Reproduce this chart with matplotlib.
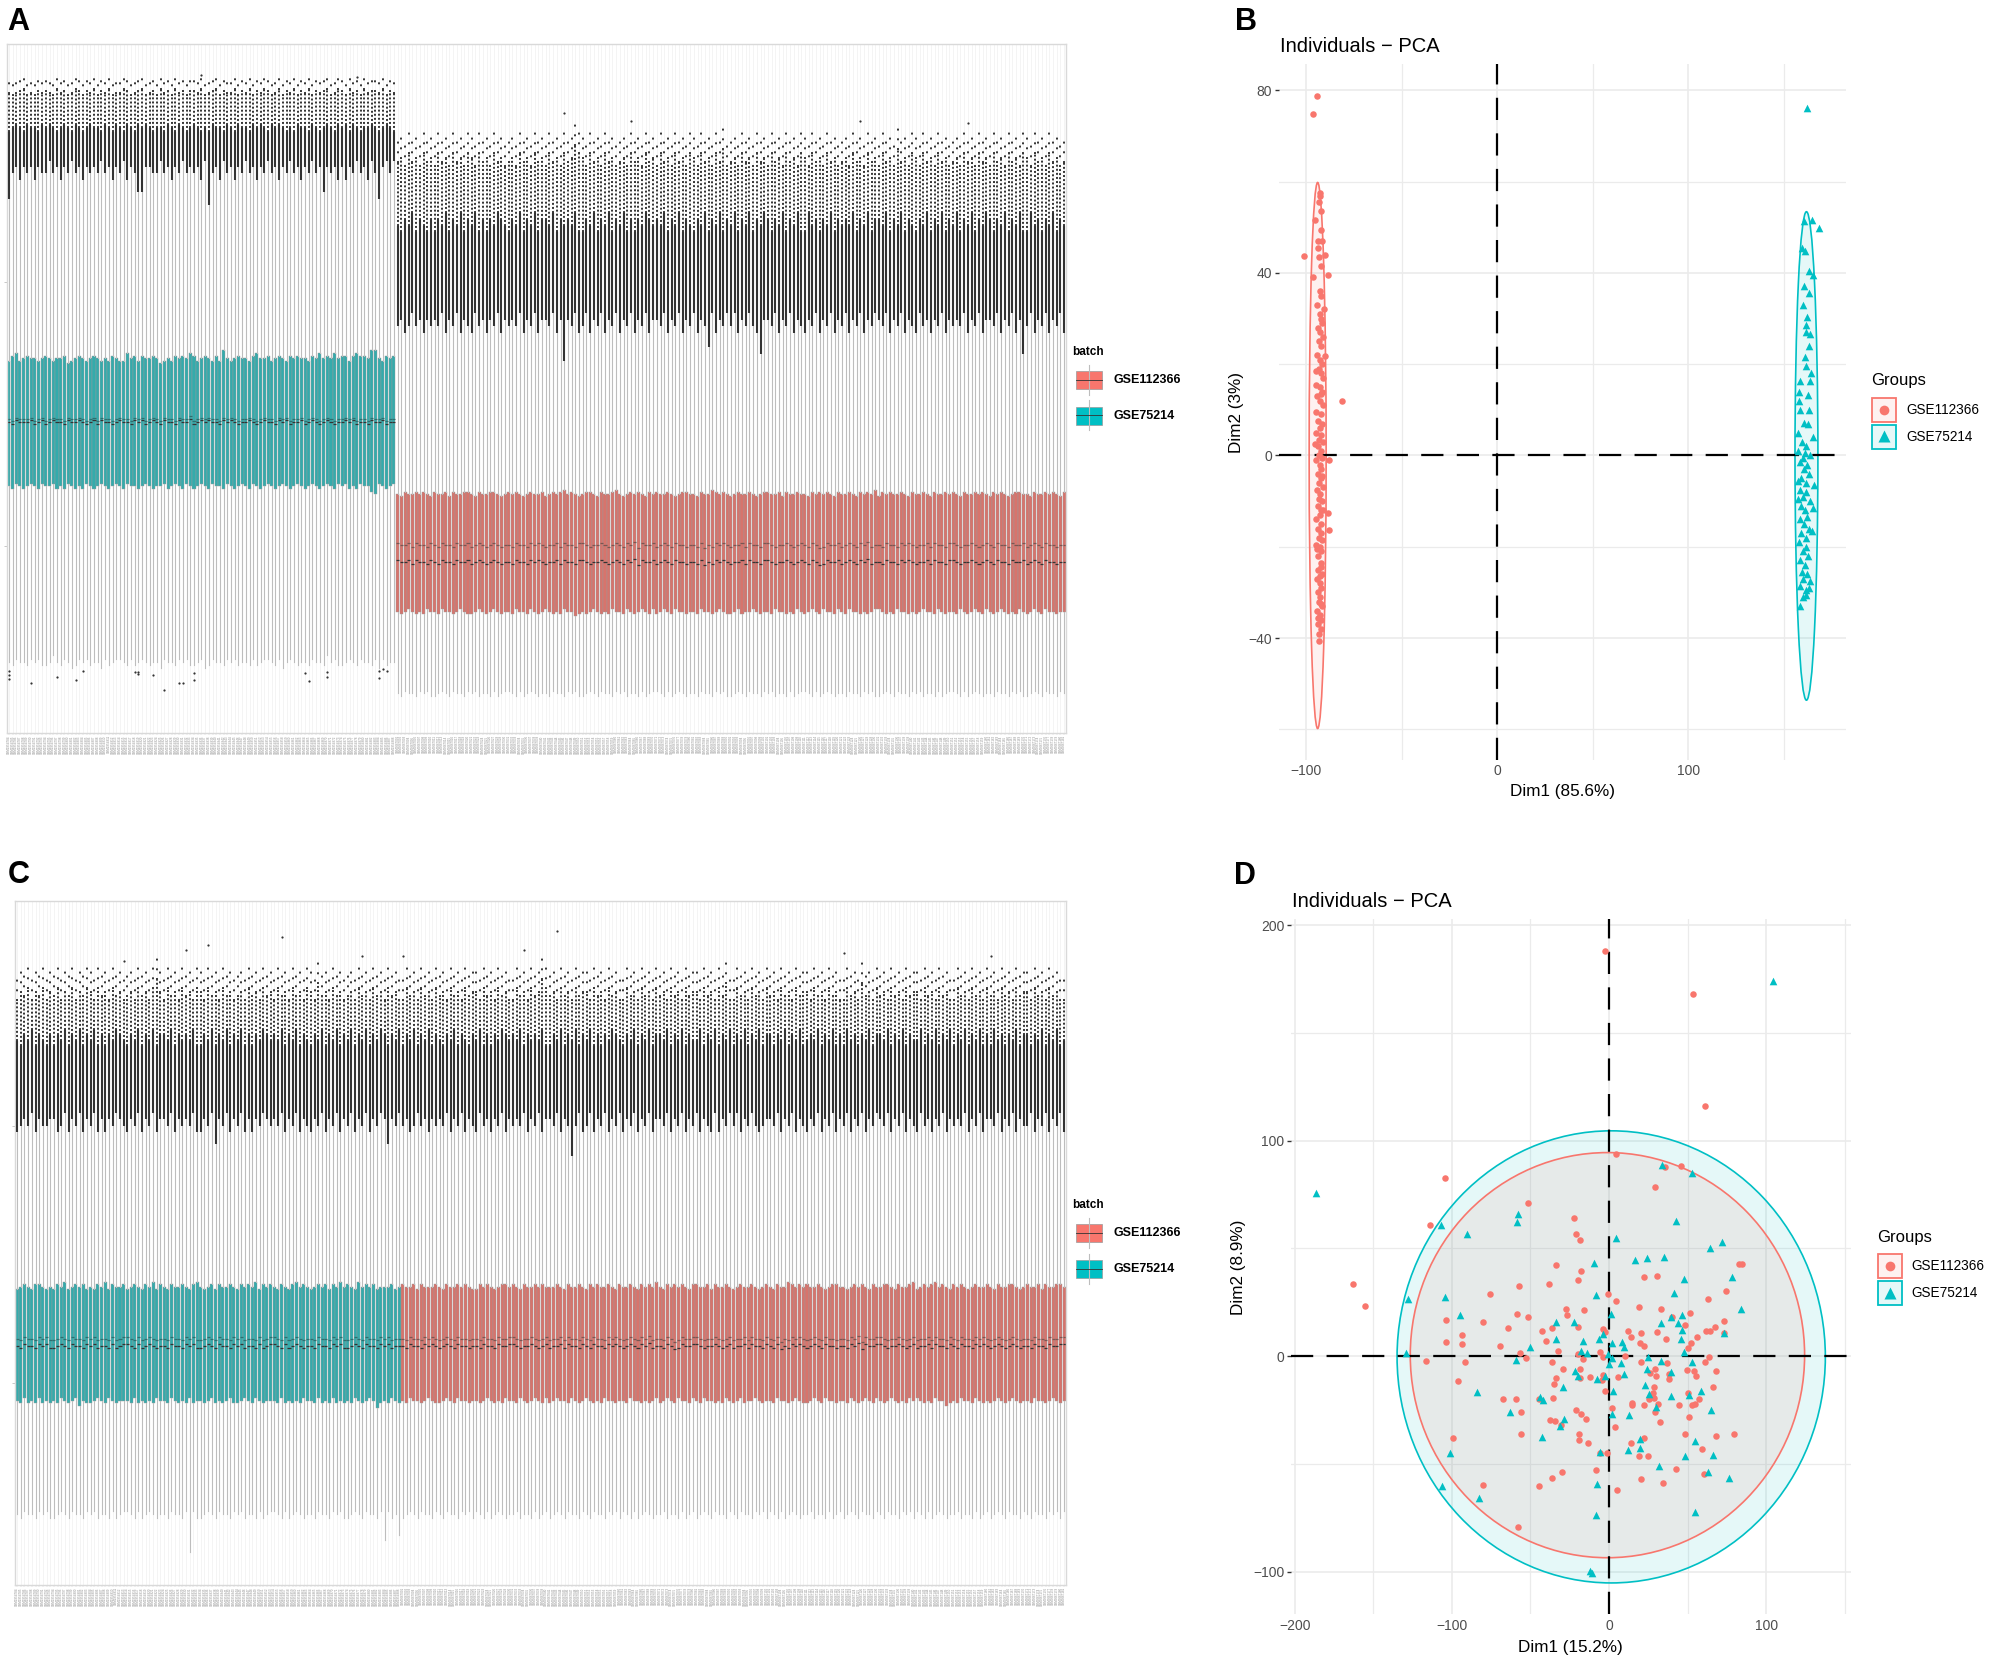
import numpy as np
import matplotlib
matplotlib.use("Agg")
import matplotlib.pyplot as plt
from matplotlib.patches import Ellipse, Rectangle
from matplotlib.colors import to_rgba

plt.rcParams['font.family'] = ['Liberation Sans', 'DejaVu Sans']

W, H = 1990, 1660
RED = '#F8766D'
TEAL = '#00BFC4'

# ------------------------------------------------------------------ data
BATCHES = ["GSE112366", "GSE75214"]
N_TEAL = 105          # GSE75214 samples (left block)
N_RED = 181           # GSE112366 samples (right block)
TEAL_SAMPLES = ["GSM%d" % (1954784 + i) for i in range(N_TEAL)]
RED_SAMPLES = ["GSM%d" % (3067001 + i) for i in range(N_RED)]

# per-sample box statistics, one digit per sample: value = base + (digit-5)*step
# panel A (before batch correction)
A_TEAL_Q3 = "4674565545 6545563456 5456545465 4475646556 5345465657 6456546485 4565546755 6456546565 5465756575 6646766588 5465655545"
A_TEAL_Q1 = "5465456546 5564546545 4654565456 5465545654 5564565465 4565465546 5456546545 6545654565 4565456546 5645465532 6545645565"
A_TEAL_MED = "5465556456 4565546556 5456465545 6554656456 5465546557 4565655465 6545565456 5546564556 4565456545 5656455465 5645546564"
A_TEAL_WH = "1564656465 5756465756 4656575646 5746522665 5756465756 5647056475 6465756465 7564657564 6575626564 6465756475 1675756465"
A_TEAL_DT = "4565465546 5654565465 4565546546 5465465654 5546546545 6545465546 5465546565 4656545465 5465456546 5646545565 4565465546"
A_TEAL_MX = "5456745465 6547564576 4657465745 5764567456 4756475646 6574567465 5746574657 6457465746 5746567457 6475647566 5746574657"
A_TEAL_WL = "5465546564 4575465346 5645536456 6546456545 5365546564 4563465546 5645546456 6546356545 5465547564 4565465546 3645546456"

A_RED_Q3 = "5465565654 6556465566 5465566545 6565456556 4565675654 5665465567 5456565465 6556545665 5465576565 4565565456 6556465565 5465656546 5565465657 4656556546 5565465565 6546556565 4656545665 5465565654 6556465556"
A_RED_Q1 = "5456545465 5465545654 4565456545 5465546545 6545465534 5456545465 5465456546 4565465545 5465545654 4564556545 5465545465 4565465546 5465545456 6545465545 4565546545 5465456546 5456545465 4565465545 5465545654"
A_RED_MED = "6556465546 5465546556 4565456545 5465546565 4556465546 6545565456 5465736556 4565465545 5463546565 4556465546 6545565456 5465346556 4565465745 5465546565 4556465546 6545565456 5465546556 4565465545 5465546565"
A_RED_WH = "5645756465 6574657465 4756465746 5657465746 6574606574 5746574657 4657465746 6574657465 7465274657 5746575416 6574657465 4657465746 5746574657 6574657465 4756465746 5657465746 6574657461 5746574657 4657465746"
A_RED_DT = "5465746546 4657465746 5746465765 4657465746 6574656574 4657465746 5746465765 6574657465 4657465746 5746574657 6465746574 4756465746 5657465746 6574657465 4657465746 5746574657 6465746574 4756465746 5657465746"
A_RED_MX = "5647564756 4756475647 6475647564 5647564756 4756475697 6475647564 5647564756 4756475647 6475647584 5647564756 4756475647 6475647564 5647564756 4756485647 6475647564 5647564756 4756475647 6475647564 5647564756"
A_RED_WL = "5465546564 4565465546 5645546456 6546456545 5465546564 4565465546 5645546456 6546456545 5465546564 4565465546 5645546456 6546456545 5465546564 4565465546 5645546456 6546456545 5465546564 4565465546 5645546456"

# (base, step) for each statistic, panel A
A_TEAL_SCALE = dict(q3=(8.55, 0.05), q1=(6.12, 0.05), med=(7.34, 0.03), wh=(12.05, 0.12),
                    dt=(12.90, 0.07), mx=(13.55, 0.04), wl=(2.80, 0.06))
A_RED_SCALE = dict(q3=(5.97, 0.04), q1=(3.75, 0.04), med=(4.69, 0.03), wh=(9.15, 0.13),
                   dt=(11.05, 0.12), mx=(12.25, 0.08), wl=(2.20, 0.05))
A_TEAL_SECOND = 0.05     # offset of the second line inside the box
A_RED_SECOND = 0.32
A_TEAL_SPARSE = 0.30     # extent of sparse outliers above the dense ones
A_RED_SPARSE = 0.55
A_EXT_IDX = [52, 94, 150, 168, 230, 259]
A_EXT_VAL = [13.92, 13.88, 13.20, 13.05, 13.05, 13.00]
A_LOW_IDX = [0, 0, 0, 6, 13, 18, 20, 34, 35, 35, 39, 42, 46, 47, 50, 50, 80, 81, 86, 86, 100, 100, 101, 102]
A_LOW_VAL = [2.62, 2.55, 2.48, 2.39, 2.52, 2.45, 2.62, 2.60, 2.60, 2.57, 2.55, 2.26, 2.40, 2.40, 2.58, 2.45,
             2.58, 2.44, 2.60, 2.52, 2.62, 2.49, 2.66, 2.62]

# panel C (after batch correction)
C_TEAL_Q3 = "4565466545 4657456564 5465746556 4565465746 5465565467 5456465565 4656574656 5465467565 4565646575 6547565645 5564546565"
C_TEAL_Q1 = "5464546454 5465456354 4565465455 5464545465 5465454645 5456454564 4565465455 5464545465 5464546454 5465456524 5465455464"
C_TEAL_MED = "5465546564 4565465546 5645546456 6546456545 5465546564 4565465546 5645546456 6546456545 5465546564 4565465546 5645546456"
C_TEAL_WH = "4565746556 6457465746 5746465765 4657465746 6574656574 4657265746 5746465765 6574657465 4657465746 5746574657 6265746574"
C_TEAL_DT = "5465746546 4657465746 5746465765 4657465746 6574656574 4657465746 5746465765 6574657465 4657465746 5746574657 6465746574"
C_TEAL_MX = "4657465746 5746574657 6475647564 5647564796 4756475647 6475647564 5647564756 4756475647 6485647564 5647564756 4756475647"
C_TEAL_WL = "5465546564 4565465546 5645546456 6546456545 5465546564 4565465546 5645546456 6546456545 5465546564 4565465546 5645546456"

C_RED_Q3 = "6556465556 5465565654 4656545665 6546556565 5565465565 4656556546 5565465657 5465656546 6556465565 4565565456 5465576565 6556545665 5456565465 5665465567 4565675654 6565456556 5465566545 6556465566 5465565654"
C_RED_Q1 = "5465545654 4565465545 5456545465 5465456546 4565546545 6545465545 5465545456 4565465546 5465545465 4564556545 5465545654 4565465545 5465456546 5456545465 6545465534 5465546545 4565456545 5465545654 5456545465"
C_RED_MED = "5465546565 4565465545 5465546556 6545565456 4556465546 5465546565 4565465745 5465346556 6545565456 4556465546 5463546565 4565465545 5465736556 6545565456 4556465546 5465546565 4565456545 5465546556 6556465546"
C_RED_WH = "5645756465 6574657465 4756465746 5657465746 6574650574 5746574657 4657465746 6574657465 7465474657 5746575456 6574657465 4657465746 5746574657 6574657465 4756465746 5657465746 6574657465 5746574657 4657465746"
C_RED_DT = "4657465746 5465746546 5746465765 6574656574 4657465746 5746465765 4657465746 6574657465 5746574657 4657465746 6465746574 5657465746 4756465746 6574657465 5746574657 4657465746 4756465746 6465746574 5657465746"
C_RED_MX = "4756475647 5647564756 6475647564 4756475697 5647564756 6475647564 4756475647 5647564756 6475647584 4756475647 5647564756 6475647564 4756485647 5647564756 6475647564 4756475647 5647564756 6475647564 4756475647"
C_RED_WL = "4565465546 5465546564 6546456545 5645546456 4565465546 5465546564 6546456545 5645546456 4565465546 5465546564 6546456545 5645546456 4565465546 5465546564 6546456545 5645546456 4565465546 5465546564 6546456545"

C_SCALE = dict(q3=(6.87, 0.05), q1=(4.66, 0.05), med=(5.72, 0.03), wh=(10.0, 0.12),
               dt=(11.65, 0.10), mx=(12.50, 0.08), wl=(2.45, 0.06))
C_SECOND = 0.14
C_SPARSE = 0.55
C_EXT_IDX = [72, 52, 46, 94, 29, 147, 138, 105, 225, 265]
C_EXT_VAL = [13.67, 13.50, 13.40, 13.30, 13.20, 13.77, 13.40, 13.30, 13.35, 13.30]
C_LONGLOW_IDX = [47, 100, 104]
C_LONGLOW_VAL = [1.72, 1.95, 2.05]

# panel B: PCA before correction (Dim1 85.6%, Dim2 3%)
B_RED_PTS = [(-94.1, 78.7), (-96.2, 74.9), (-101.0, 43.8), (-81.2, 11.9), (-93.4, -40.6), (-88.8, 39.5),
             (-87.8, -1.0), (-87.8, -16.3), (-90.1, 21.9), (-90.8, 32.0), (-96.2, 39.2), (-92.8, 56.9),
             (-93.5, 55.5), (-95.2, 51.5), (-92.5, 49.5), (-93.8, 47.0), (-91.8, 47.0), (-90.0, 44.0),
             (-93.5, 43.5), (-92.0, 41.5), (-93.0, 36.0), (-92.5, 35.0), (-94.5, 33.0), (-93.0, 31.0),
             (-91.5, 29.0), (-94.0, 28.0), (-92.8, 27.0), (-91.0, 26.0), (-93.5, 25.0), (-92.0, 24.0),
             (-94.5, 22.0), (-93.0, 21.0), (-91.5, 20.0), (-94.8, 18.5), (-92.5, 18.0), (-91.0, 17.0),
             (-95.0, 15.5), (-93.0, 15.0), (-92.0, 13.5), (-94.5, 13.0), (-93.0, 12.0), (-91.0, 11.0),
             (-95.0, 9.5), (-92.5, 9.0), (-94.0, 7.5), (-91.5, 7.0), (-93.0, 6.0), (-95.0, 5.0),
             (-92.0, 4.5), (-93.5, 3.5), (-91.0, 3.0), (-94.0, 2.0), (-92.5, 1.0), (-93.5, 0.0),
             (-91.5, -0.5), (-95.0, -1.0), (-93.0, -2.0), (-92.0, -3.0), (-94.0, -4.0), (-92.5, -5.0),
             (-93.5, -6.0), (-91.0, -7.0), (-94.5, -7.5), (-92.8, -8.5), (-93.5, -9.5), (-91.5, -10.0),
             (-94.0, -11.0), (-92.5, -12.0), (-88.5, -12.5), (-93.0, -13.0), (-95.0, -14.0), (-92.0, -15.0),
             (-94.0, -16.0), (-92.5, -17.0), (-93.5, -18.0), (-91.5, -18.5), (-95.0, -19.5), (-93.0, -20.0),
             (-92.0, -21.0), (-94.0, -22.0), (-92.5, -23.5), (-93.8, -25.0), (-91.8, -26.0), (-94.5, -27.0),
             (-93.0, -28.0), (-92.0, -29.0), (-94.0, -30.0), (-92.8, -31.0), (-93.5, -32.0), (-91.5, -33.0),
             (-94.5, -34.0), (-93.0, -35.0), (-92.0, -36.0), (-94.0, -37.0), (-92.5, -38.0), (-91.0, -12.0),
             (-93.5, -39.0), (-92.0, -24.5), (-94.5, -20.5), (-91.5, -4.5), (-93.0, -26.5), (-92.0, -32.5),
             (-94.0, -35.5), (-95.5, 2.5), (-91.5, 14.0), (-93.5, 19.0), (-92.5, 30.0), (-94.0, 45.5),
             (-92.0, 53.5), (-93.0, 57.5)]
B_TEAL_PTS = [(162.3, 76.1), (168.7, 49.8), (164.9, 51.6), (160.6, 51.4), (161.1, 44.9), (163.1, 40.4),
              (165.6, 39.6), (160.6, 37.1), (163.1, 35.7), (162.3, 30.3), (161.5, 27.0), (163.6, 26.7),
              (163.1, 23.9), (161.8, 19.6), (158.5, 16.3), (164.1, 16.3), (158.0, 13.8), (162.8, 13.3),
              (158.5, 10.0), (163.1, 10.0), (160.6, 7.2), (165.6, 4.0), (159.5, 3.0), (162.0, 2.0),
              (157.5, 1.0), (161.0, 0.5), (164.0, 0.0), (160.0, -0.5), (158.5, -1.5), (162.5, -2.0),
              (160.5, -3.0), (163.5, -4.0), (159.0, -5.0), (161.5, -6.0), (166.0, -6.5), (158.5, -7.5),
              (162.0, -8.0), (160.0, -9.0), (164.0, -10.0), (159.0, -11.0), (165.5, -11.5), (161.0, -12.0),
              (162.5, -13.5), (158.5, -14.0), (160.5, -15.0), (163.5, -16.0), (165.0, -16.5), (159.0, -17.0),
              (161.5, -18.0), (158.0, -19.0), (162.0, -20.0), (160.0, -21.0), (163.0, -22.0), (158.5, -23.0),
              (161.0, -24.0), (159.5, -25.5), (162.5, -26.0), (160.0, -27.0), (164.0, -27.5), (158.5, -28.5),
              (161.5, -29.5), (163.5, -29.0), (160.0, -31.0), (158.5, -33.0), (162.0, -30.5), (157.5, 5.0),
              (157.8, -5.5), (158.0, 12.0), (163.0, 7.0), (161.0, 21.5), (160.0, 33.0), (159.5, 45.5),
              (162.0, 28.5), (164.5, 18.0), (157.5, -9.5)]
# confidence ellipses: centre x, centre y, half-width, half-height
B_RED_ELL = (-94.0, 0.0, 4.45, 59.8)
B_TEAL_ELL = (162.0, -0.1, 6.0, 53.5)

# panel D: PCA after correction (Dim1 15.2%, Dim2 8.9%)
D_RED_PTS = [(-104.6, 82.5), (-113.7, 61.1), (-51.4, 70.9), (4.2, 93.8), (35.4, 87.9), (45.9, 88.2), (29.5, 78.3),
             (-22.3, 64.0), (-21.1, 56.6), (-18.3, 54.1), (-33.5, 42.5), (-18.1, 39.5), (-20.0, 35.2), (-38.5, 33.6),
             (-57.5, 32.7), (-75.6, 28.8), (22.1, 36.7), (30.5, 37.4), (82.7, 42.8), (84.8, 42.9), (74.3, 30.4),
             (62.9, 26.4), (4.2, 25.4), (-0.8, 29.0), (19.2, 22.9), (33.3, 21.7), (40.4, 18.1), (51.8, 20.2),
             (-27.6, 21.9), (-26.7, 19.1), (-15.8, 21.4), (-58.5, 19.7), (-51.6, 18.4), (-80.2, 16.1), (-104.0, 16.7),
             (-64.0, 13.2), (-93.3, 9.8), (-104.0, 6.4), (-93.3, 5.7), (-69.3, 4.8), (-42.9, 11.8), (-36.2, 13.2),
             (-39.8, 7.1), (-19.6, 13.5), (-4.0, 12.7), (-2.5, 11.2), (12.2, 11.8), (13.9, 9.1), (20.2, 11.0),
             (30.3, 11.3), (36.2, 8.2), (20.0, 6.0), (22.1, 4.8), (48.6, 14.4), (55.8, 8.8), (52.4, 6.0), (50.3, 3.7),
             (61.7, 11.5), (64.0, 11.6), (67.2, 13.5), (73.3, 16.4), (73.1, 10.7), (-116.8, -2.0), (-91.8, -2.8),
             (-96.2, -11.3), (-56.8, 1.7), (-52.6, -0.6), (-32.2, 2.5), (-36.4, -2.6), (-20.0, 0.9), (-16.8, -1.2),
             (-5.5, 1.9), (-4.0, -0.5), (9.9, 0.2), (20.2, -2.5), (36.8, -3.1), (49.5, -6.5), (54.3, -6.7),
             (55.4, -9.1), (60.8, -2.5), (63.6, -0.5), (68.4, -7.0), (66.5, -14.3), (-29.3, -5.9), (-33.7, -9.9),
             (-34.9, -12.7), (-18.7, -6.0), (-18.3, -9.9), (-12.4, -9.6), (-4.0, -8.5), (-4.4, -10.9), (5.5, -9.6),
             (25.9, -7.6), (29.3, -6.0), (29.9, -9.1), (38.1, -8.1), (38.5, -10.4), (-2.5, -16.3), (28.8, -14.1),
             (28.0, -17.1), (25.3, -19.8), (28.4, -19.2), (14.7, -21.6), (14.9, -22.6), (22.1, -22.6), (31.2, -22.2),
             (50.3, -17.1), (57.3, -19.8), (54.5, -22.2), (52.8, -22.5), (44.4, -22.8), (-67.6, -20.0), (-59.2, -20.0),
             (-56.2, -26.0), (-44.4, -19.8), (-35.6, -19.2), (-20.8, -25.0), (-17.9, -27.0), (-14.5, -29.3),
             (-37.3, -29.6), (-34.3, -30.1), (-30.7, -32.1), (2.1, -23.9), (3.8, -32.9), (29.1, -26.0), (32.6, -30.7),
             (51.2, -28.4), (48.4, -36.3), (68.4, -37.2), (79.8, -36.3), (59.2, -43.1), (-99.2, -38.0), (-56.0, -36.3),
             (-19.2, -36.1), (-19.2, -38.9), (-13.1, -40.3), (-5.7, -44.7), (-1.5, -44.8), (14.3, -40.2), (22.1, -38.0),
             (19.2, -46.5), (24.8, -46.5), (-8.2, -52.6), (-29.7, -53.5), (-36.6, -56.3), (-44.6, -60.0), (-80.2, -59.8),
             (20.6, -57.2), (34.1, -58.6), (42.9, -52.2), (60.2, -54.7), (4.8, -62.3), (-2.8, 188.1), (53.7, 168.2),
             (61.1, 116.3), (-162.7, 33.7), (-155.6, 23.1), (-58.0, -79.1)]
D_TEAL_PTS = [(-106.7, 60.8), (-90.1, 56.9), (-57.7, 66.2), (-58.7, 62.3), (4.4, 54.9), (33.9, 88.7), (52.8, 85.1),
              (42.5, 62.8), (64.0, 50.4), (71.8, 52.9), (16.6, 44.5), (24.4, 45.7), (35.2, 46.0), (-9.7, 43.3),
              (48.0, 35.7), (78.5, 36.7), (83.8, 22.0), (41.5, 29.3), (-8.2, 28.4), (-104.2, 27.4), (-94.7, 19.1),
              (1.3, 19.7), (-33.5, 15.7), (-22.3, 15.7), (33.1, 15.2), (39.6, 18.4), (46.7, 19.1), (44.0, 15.5),
              (46.3, 12.4), (73.3, 10.7), (-33.5, 7.8), (-16.8, 7.3), (-6.3, 8.1), (-3.8, 10.1), (2.1, 6.2), (8.2, 6.5),
              (9.5, 4.2), (45.9, 8.1), (-50.5, 4.2), (-59.0, -1.7), (-17.9, 2.6), (-13.7, 1.4), (-0.8, 1.1), (1.7, -0.8),
              (0.2, -3.6), (7.4, -3.3), (24.8, -0.5), (32.8, -2.3), (47.6, 1.9), (52.8, -2.9), (-21.5, -6.7),
              (-20.0, -9.3), (-7.8, -10.7), (-2.5, -9.0), (9.3, -8.4), (24.0, -6.0), (25.5, -17.5), (22.7, -13.3),
              (39.2, -7.1), (2.3, -16.0), (-29.5, -14.3), (-83.8, -16.6), (-44.0, -19.1), (-42.1, -20.3), (39.2, -18.6),
              (50.7, -18.0), (58.7, -16.1), (29.7, -23.4), (64.8, -25.1), (-63.0, -25.9), (-28.6, -29.1), (-31.4, -32.2),
              (2.1, -26.7), (12.8, -27.1), (-42.7, -37.7), (-101.1, -44.8), (20.0, -38.6), (19.8, -42.8), (11.8, -43.7),
              (54.7, -39.5), (66.3, -45.7), (48.4, -46.5), (31.8, -51.0), (-5.5, -44.3), (62.9, -53.5), (76.6, -56.6),
              (-106.5, -60.0), (-82.5, -66.0), (-7.8, -59.4), (104.3, 174.0), (-186.4, 75.7), (-128.1, 26.7),
              (-129.3, 1.7), (-12.3, -99.8), (-10.8, -100.4), (-8.3, -73.5), (54.9, -72.3)]
D_RED_ELL = (-1.0, 0.5, 125.5, 94.0)
D_TEAL_ELL = (1.4, -0.3, 136.3, 104.9)


# ------------------------------------------------------------------ helpers
def dec(s, n, scale):
    base, step = scale
    digits = s.replace(' ', '')
    d = np.array([int(c) for c in digits[:n]], dtype=float)
    if len(d) < n:
        d = np.concatenate([d, np.full(n - len(d), 5.0)])
    return base + (d - 5.0) * step


def group(strings, n, scale):
    keys = ['q3', 'q1', 'med', 'wh', 'dt', 'mx', 'wl']
    return {k: dec(s, n, scale[k]) for k, s in zip(keys, strings)}


fig = plt.figure(figsize=(W / 100, H / 100), dpi=100)
fig.patch.set_facecolor('white')


def ax_px(l, t, r, b):
    return fig.add_axes([l / W, 1 - b / H, (r - l) / W, (b - t) / H])


def box_panel(ax, groups, ylim, ext_idx, ext_val, low_idx=None, low_val=None):
    start = 0
    allpos = []
    for g in groups:
        n = g['n']
        pos = np.arange(start, start + n) + 1.0
        stats = []
        for i in range(n):
            stats.append(dict(med=g['med'][i], q1=g['q1'][i], q3=g['q3'][i],
                              whislo=g['wl'][i], whishi=g['wh'][i],
                              mean=g['med'][i] + g['second'], fliers=np.array([])))
        ax.bxp(stats, positions=pos, widths=0.82, patch_artist=True, showcaps=False,
               showfliers=False, showmeans=True, meanline=True, manage_ticks=False,
               boxprops=dict(facecolor=g['face'], edgecolor='#9A9A9A', linewidth=0.3),
               whiskerprops=dict(color='#BDBDBD', linewidth=0.8),
               medianprops=dict(color='#333333', linewidth=0.9),
               meanprops=dict(color=g['secondc'], linewidth=0.9, linestyle='-'))
        ax.vlines(pos, g['wh'], g['dt'], colors='#333333', linewidth=1.5, zorder=3)
        ax.vlines(pos, g['dt'], g['mx'], colors='#333333', linewidth=1.4,
                  linestyles=[(0, (1, 1.1))], zorder=3)
        ax.vlines(pos, g['mx'], g['mx'] + g['sparse'], colors='#333333', linewidth=1.4,
                  linestyles=[(0, (1, 4.0))], zorder=3)
        allpos.extend(list(pos))
        start += n
    allpos = np.array(allpos)
    ax.plot(allpos[ext_idx], ext_val, 'o', ms=1.6, color='#333333', mec='none', zorder=3)
    if low_idx is not None:
        ax.plot(allpos[low_idx], low_val, 'o', ms=1.6, color='#333333', mec='none', zorder=3)
    ax.set_xlim(0.5, len(allpos) + 0.5)
    ax.set_ylim(*ylim)
    ax.set_xticks(allpos)
    ax.set_xticklabels(TEAL_SAMPLES + RED_SAMPLES, rotation=90, fontsize=2.2, color='#8C8C8C')
    ax.tick_params(axis='x', length=1.2, width=0.3, color='#C8C8C8', pad=0.5)
    ax.set_yticks([5, 10])
    ax.set_yticklabels(['', ''])
    ax.tick_params(axis='y', length=2, width=0.5, color='#B0B0B0')
    ax.grid(axis='x', color='#F0F0F0', linewidth=0.5)
    ax.set_axisbelow(True)
    for sp in ax.spines.values():
        sp.set_color('#D9D9D9')
        sp.set_linewidth(1.0)


def pca_panel(ax, red_pts, teal_pts, ell_r, ell_t, xlim, ylim, xmaj, xmin, ymaj, ymin):
    ax.set_xlim(*xlim)
    ax.set_ylim(*ylim)
    for v in xmaj:
        ax.axvline(v, color='#EBEBEB', lw=1.2, zorder=0)
    for v in xmin:
        ax.axvline(v, color='#EBEBEB', lw=0.9, zorder=0)
    for v in ymaj:
        ax.axhline(v, color='#EBEBEB', lw=1.2, zorder=0)
    for v in ymin:
        ax.axhline(v, color='#EBEBEB', lw=0.9, zorder=0)
    for ell, col in ((ell_t, TEAL), (ell_r, RED)):
        cx, cy, a, b = ell
        ax.add_patch(Ellipse((cx, cy), 2 * a, 2 * b, facecolor=to_rgba(col, 0.1),
                             edgecolor='none', zorder=1))
    for ell, col in ((ell_t, TEAL), (ell_r, RED)):
        cx, cy, a, b = ell
        ax.add_patch(Ellipse((cx, cy), 2 * a, 2 * b, facecolor='none',
                             edgecolor=col, lw=1.2, zorder=2))
    ax.axhline(0, color='black', lw=1.6, dashes=(10, 6), zorder=3)
    ax.axvline(0, color='black', lw=1.6, dashes=(10, 6), zorder=3)
    rp = np.array(red_pts)
    tp = np.array(teal_pts)
    ax.scatter(rp[:, 0], rp[:, 1], s=22, c=RED, marker='o', linewidths=0, zorder=4)
    ax.scatter(tp[:, 0], tp[:, 1], s=30, c=TEAL, marker='^', linewidths=0, zorder=4)
    ax.set_xticks(xmaj)
    ax.set_yticks(ymaj)
    ax.tick_params(axis='x', length=0, pad=3.0, labelsize=10, labelcolor='#4D4D4D')
    ax.tick_params(axis='y', length=3, width=1, color='#333333', pad=1.5, labelsize=10,
                   labelcolor='#4D4D4D')
    for sp in ax.spines.values():
        sp.set_visible(False)


# ------------------------------------------------------------------ panels
axA = ax_px(7, 44, 1066, 733)
axC = ax_px(15.3, 901, 1066, 1585)
axB = ax_px(1278.5, 63.8, 1845.6, 760)
axD = ax_px(1290.7, 919.2, 1850.8, 1614.4)

gA_teal = group([A_TEAL_Q3, A_TEAL_Q1, A_TEAL_MED, A_TEAL_WH, A_TEAL_DT, A_TEAL_MX, A_TEAL_WL], N_TEAL, A_TEAL_SCALE)
gA_teal.update(n=N_TEAL, second=A_TEAL_SECOND, sparse=A_TEAL_SPARSE, face='#34ABAC', secondc='#2E6E6E')
gA_red = group([A_RED_Q3, A_RED_Q1, A_RED_MED, A_RED_WH, A_RED_DT, A_RED_MX, A_RED_WL], N_RED, A_RED_SCALE)
gA_red.update(n=N_RED, second=A_RED_SECOND, sparse=A_RED_SPARSE, face='#D7746C', secondc='#7A5753')
box_panel(axA, [gA_teal, gA_red], (1.45, 14.5), A_EXT_IDX, A_EXT_VAL, A_LOW_IDX, A_LOW_VAL)

gC_teal = group([C_TEAL_Q3, C_TEAL_Q1, C_TEAL_MED, C_TEAL_WH, C_TEAL_DT, C_TEAL_MX, C_TEAL_WL], N_TEAL, C_SCALE)
gC_teal.update(n=N_TEAL, second=C_SECOND, sparse=C_SPARSE, face='#34ABAC', secondc='#2E6E6E')
gC_red = group([C_RED_Q3, C_RED_Q1, C_RED_MED, C_RED_WH, C_RED_DT, C_RED_MX, C_RED_WL], N_RED, C_SCALE)
gC_red.update(n=N_RED, second=C_SECOND, sparse=C_SPARSE, face='#D7746C', secondc='#7A5753')
for i, v in zip(C_LONGLOW_IDX, C_LONGLOW_VAL):
    gC_teal['wl'][i] = v
box_panel(axC, [gC_teal, gC_red], (1.08, 14.36), C_EXT_IDX, C_EXT_VAL)

pca_panel(axB, B_RED_PTS, B_TEAL_PTS, B_RED_ELL, B_TEAL_ELL, (-114.5, 182.5), (-66.7, 85.8),
          [-100, 0, 100], [-50, 50, 150], [-40, 0, 40, 80], [-60, -20, 20, 60])
pca_panel(axD, D_RED_PTS, D_TEAL_PTS, D_RED_ELL, D_TEAL_ELL, (-202.6, 153.9), (-119.8, 202.8),
          [-200, -100, 0, 100], [-150, -50, 50, 150], [-100, 0, 100, 200], [-50, 50, 150])

# ------------------------------------------------------------------ overlay texts / legends
ov = fig.add_axes([0, 0, 1, 1])
ov.set_xlim(0, W)
ov.set_ylim(H, 0)
ov.axis('off')

for lab, x, y in (('A', 7, 30), ('B', 1235, 30), ('C', 8, 883), ('D', 1234, 884)):
    ov.text(x, y, lab, fontsize=22, fontweight='bold', va='baseline', ha='left')

ov.text(1280, 51.7, 'Individuals \u2212 PCA', fontsize=14.5, va='baseline', ha='left')
ov.text(1291.5, 907.2, 'Individuals \u2212 PCA', fontsize=14.5, va='baseline', ha='left')
ov.text(1562, 796, 'Dim1 (85.6%)', fontsize=12.3, va='baseline', ha='center')
ov.text(1570.7, 1652, 'Dim1 (15.2%)', fontsize=12.3, va='baseline', ha='center')
ov.text(1236, 412, 'Dim2 (3%)', fontsize=12.3, rotation=90, va='center', ha='center')
ov.text(1239, 1267, 'Dim2 (8.9%)', fontsize=12.3, rotation=90, va='center', ha='center')


def batch_legend(dy):
    ov.text(1072, 352 + dy, 'batch', fontsize=8.5, fontweight='bold', va='center', ha='left')
    for col, lab, yc in ((RED, BATCHES[0], 380 + dy), (TEAL, BATCHES[1], 415.5 + dy)):
        ov.plot([1089, 1089], [yc - 15, yc + 15], color='#BDBDBD', lw=0.8)
        ov.add_patch(Rectangle((1075.7, yc - 9), 26.6, 18, facecolor=col, edgecolor='#9A9A9A', lw=0.5))
        ov.plot([1075.7, 1102.3], [yc, yc], color='#333333', lw=0.6)
        ov.text(1113, yc, lab, fontsize=9, fontweight='bold', va='center', ha='left')


batch_legend(0)
batch_legend(853)


def group_legend(x0, ytitle, tops, xtext):
    ov.text(x0, ytitle, 'Groups', fontsize=12, va='center', ha='left')
    for col, mk, ms, top, lab in ((RED, 'o', 7.0, tops[0], BATCHES[0]), (TEAL, '^', 8.0, tops[1], BATCHES[1])):
        ov.add_patch(Rectangle((x0 + 0.5, top), 24, 24, facecolor=to_rgba(col, 0.1), edgecolor=col, lw=1.3))
        ov.plot([x0 + 12.5], [top + 12], marker=mk, ms=ms, color=col, mec='none')
        ov.text(xtext, top + 12, lab, fontsize=9.8, va='center', ha='left')


group_legend(1871, 381, (398, 424.5), 1906)
group_legend(1877, 1237.5, (1254, 1280.5), 1911)

fig.savefig('out.png', dpi=100, facecolor='white')
